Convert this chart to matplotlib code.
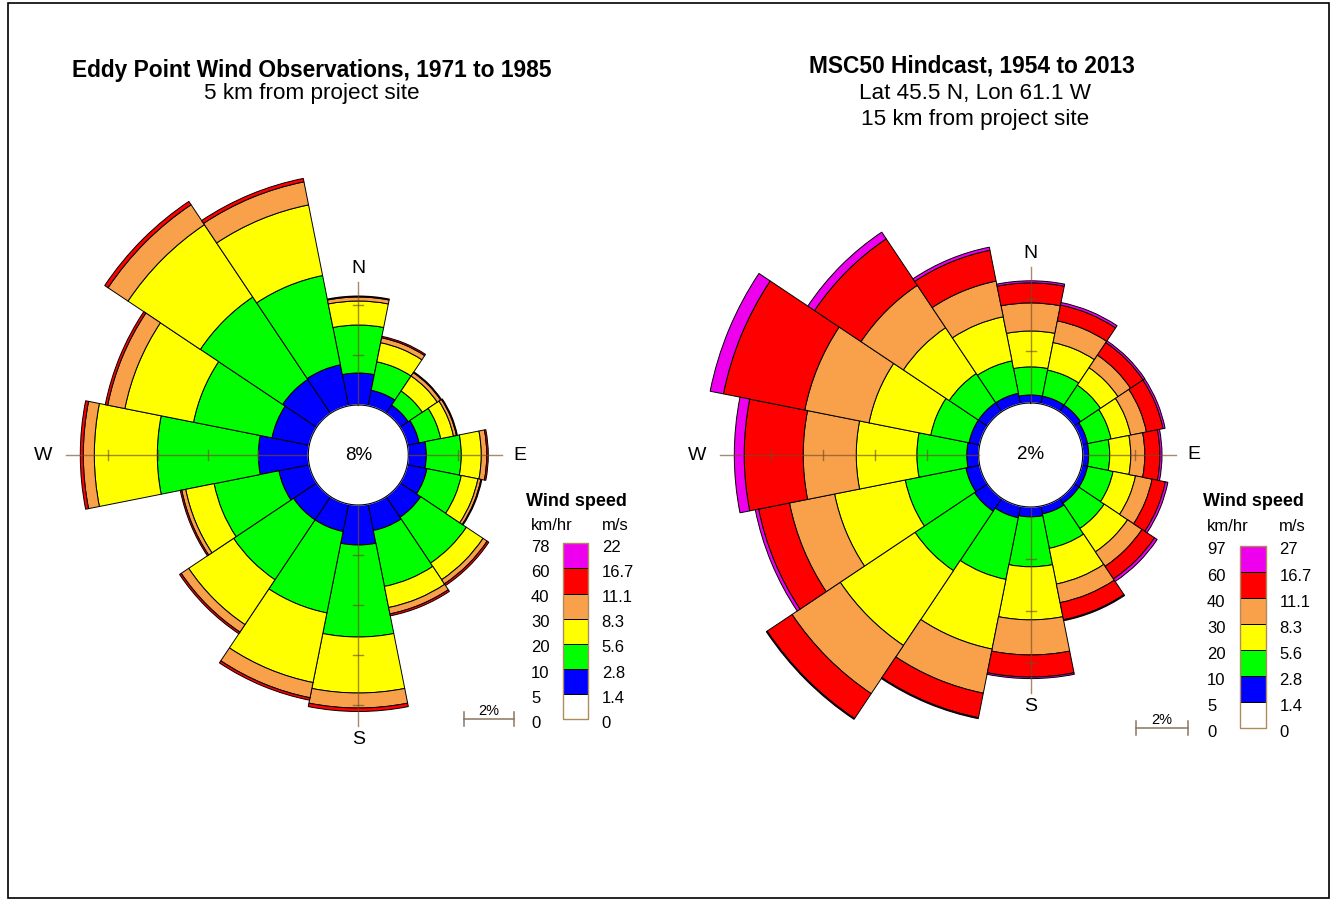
import numpy as np
import matplotlib
matplotlib.use("Agg")
import matplotlib.pyplot as plt
from matplotlib.patches import Rectangle

plt.rcParams['font.family'] = ['Liberation Sans', 'DejaVu Sans']

FIG_W, FIG_H = 1333, 901

directions = ['N', 'NNE', 'NE', 'ENE', 'E', 'ESE', 'SE', 'SSE',
              'S', 'SSW', 'SW', 'WSW', 'W', 'WNW', 'NW', 'NNW']

# speed class colours, slowest first (1.4 m/s upward)
speed_colors = ['#0000ff', '#00ff00', '#ffff00', '#f9a04b', '#ff0000', '#ee00ee']

# ---- Eddy Point observations, 1971-1985: frequency (%) by direction ----
eddy_calm = 8
eddy_1_4 = [1.28, 0.64, 0.40, 0.48, 0.72, 0.80, 1.00, 1.08,
            1.60, 1.12, 1.12, 1.24, 2.00, 1.52, 1.64, 1.68]
eddy_2_8 = [1.92, 1.16, 0.68, 0.88, 1.40, 1.40, 2.20, 2.28,
            3.68, 3.32, 2.88, 2.64, 4.04, 3.20, 3.96, 3.64]
eddy_5_6 = [0.96, 0.78, 0.72, 0.52, 0.80, 0.68, 0.80, 0.86,
            2.24, 2.84, 2.16, 1.16, 2.52, 2.80, 3.48, 2.88]
eddy_8_3 = [0.16, 0.20, 0.16, 0.12, 0.22, 0.12, 0.20, 0.26,
            0.60, 0.62, 0.36, 0.16, 0.44, 0.70, 0.96, 0.94]
eddy_11_1 = [0.04, 0.06, 0.04, 0.04, 0.06, 0.04, 0.08, 0.08,
             0.14, 0.10, 0.08, 0.06, 0.12, 0.10, 0.16, 0.14]
eddy_16_7 = [0.0] * 16
eddy_kmh = ['0', '5', '10', '20', '30', '40', '60', '78']
eddy_ms = ['0', '1.4', '2.8', '5.6', '8.3', '11.1', '16.7', '22']

# ---- MSC50 hindcast, 1954-2013: frequency (%) by direction ----
msc_calm = 2
msc_1_4 = [0.31, 0.31, 0.31, 0.23, 0.23, 0.23, 0.23, 0.31,
           0.38, 0.46, 0.60, 0.54, 0.46, 0.42, 0.42, 0.42]
msc_2_8 = [1.08, 1.02, 0.92, 0.92, 0.81, 1.00, 1.17, 1.35,
           1.92, 2.42, 2.75, 2.38, 1.92, 1.50, 1.35, 1.27]
msc_5_6 = [1.38, 1.08, 0.81, 0.77, 0.81, 0.88, 1.08, 1.40,
           2.04, 2.73, 3.46, 2.77, 2.33, 2.42, 2.12, 1.73]
msc_8_3 = [1.08, 0.85, 0.58, 0.62, 0.54, 0.65, 0.67, 0.73,
           1.35, 1.73, 2.23, 1.77, 2.04, 2.52, 1.96, 1.40]
msc_11_1 = [0.77, 0.62, 0.58, 0.65, 0.58, 0.52, 0.58, 0.67,
            0.85, 0.96, 1.15, 1.21, 2.27, 3.19, 2.15, 1.21]
msc_16_7 = [0.08, 0.10, 0.08, 0.08, 0.08, 0.10, 0.12, 0.04,
            0.06, 0.04, 0.04, 0.13, 0.38, 0.52, 0.31, 0.12]
msc_kmh = ['0', '5', '10', '20', '30', '40', '60', '97']
msc_ms = ['0', '1.4', '2.8', '5.6', '8.3', '11.1', '16.7', '27']

R0 = 2.0                      # radius of the calm circle, in % units
AXIS_COL = (0.45, 0.30, 0.15, 0.65)
FRAME_COL = '#b08a5a'
SCALE_COL = '#8a7560'

fig = plt.figure(figsize=(FIG_W / 100, FIG_H / 100), dpi=100)
fig.patch.set_facecolor('white')

# full-figure overlay in pixel units for titles, legends, scale bars
ov = fig.add_axes([0, 0, 1, 1])
ov.set_xlim(0, FIG_W)
ov.set_ylim(FIG_H, 0)
ov.axis('off')


def draw_rose(cx, cy, half, pxp, classes, calm):
    ax = fig.add_axes([(cx - half) / FIG_W, (FIG_H - cy - half) / FIG_H,
                       2 * half / FIG_W, 2 * half / FIG_H], projection='polar')
    ax.set_theta_zero_location('N')
    ax.set_theta_direction(-1)
    ax.set_ylim(0, half / pxp)
    ax.set_axis_off()

    theta = np.deg2rad(np.arange(len(directions)) * 22.5)
    width = 2 * np.pi / len(directions)
    base = np.full(len(directions), R0)
    for vals, col in zip(classes, speed_colors):
        vals = np.asarray(vals, dtype=float)
        m = vals > 0
        if m.any():
            ax.bar(theta[m], vals[m], width=width, bottom=base[m], color=col,
                   edgecolor='black', linewidth=0.7, align='center', zorder=2)
        base = base + vals

    t = np.linspace(0, 2 * np.pi, 361)
    ax.fill(t, np.full_like(t, R0), color='white', zorder=3)
    ax.plot(t, np.full_like(t, R0), color='black', lw=0.8, zorder=4)
    ax.text(0, 0, f'{calm}%', ha='center', va='center', fontsize=13.5, zorder=6)

    # compass axes with 2% ticks
    ext = 14 / pxp
    specs = {'N': (0, dict(ha='center', va='bottom'), 5),
             'E': (4, dict(ha='left', va='center'), 11),
             'S': (8, dict(ha='center', va='top'), 5),
             'W': (12, dict(ha='right', va='center'), 14)}
    for lab, (i, al, gap) in specs.items():
        th = theta[i]
        rend = base[i] + ext
        ax.plot([th, th], [R0, rend], color=AXIS_COL, lw=1.0, zorder=5)
        rt = R0 + 2
        while rt < rend:
            d = 5 / (rt * pxp)
            ax.plot([th - d, th + d], [rt, rt], color=AXIS_COL, lw=1.0, zorder=5)
            rt += 2
        ax.text(th, rend + gap / pxp, lab, fontsize=14, zorder=6, **al)
    return ax


def draw_legend(x_box, y_top, seg_h, box_w, x_kmh, x_ms, y_units, kmh, ms, bar_x, bar_y, pxp):
    ov.text((x_kmh + x_ms + 20) / 2, 501.7, 'Wind speed', ha='center', va='center',
            fontsize=13, fontweight='bold')
    ov.text(x_kmh, y_units, 'km/hr', ha='left', va='center', fontsize=12)
    ov.text(x_ms, y_units, 'm/s', ha='left', va='center', fontsize=12)
    cols = ['white'] + speed_colors
    n = len(cols)
    for k, col in enumerate(cols):
        y0 = y_top + (n - 1 - k) * seg_h
        ov.add_patch(Rectangle((x_box, y0), box_w, seg_h, facecolor=col,
                               edgecolor='black', lw=0.7))
    ov.add_patch(Rectangle((x_box, y_top), box_w, n * seg_h, fill=False,
                           edgecolor=FRAME_COL, lw=1.0))
    for k in range(n + 1):
        yb = y_top + (n - k) * seg_h + 4
        ov.text(x_kmh, yb, kmh[k], ha='left', va='center', fontsize=12)
        ov.text(x_ms, yb, ms[k], ha='left', va='center', fontsize=12)
    # 2% scale bar
    L = 2 * pxp
    ov.plot([bar_x, bar_x + L], [bar_y, bar_y], color=SCALE_COL, lw=1.1)
    for xe in (bar_x, bar_x + L):
        ov.plot([xe, xe], [bar_y - 7, bar_y + 7], color=SCALE_COL, lw=1.1)
    ov.text(bar_x + L / 2, bar_y - 4, '2%', ha='center', va='baseline', fontsize=10.5)


# titles
ov.text(312, 70, 'Eddy Point Wind Observations, 1971 to 1985', ha='center', va='center',
        fontsize=16.4, fontweight='bold')
ov.text(312, 94, '5 km from project site', ha='center', va='center', fontsize=16.2)
ov.text(972, 66, 'MSC50 Hindcast, 1954 to 2013', ha='center', va='center',
        fontsize=16.4, fontweight='bold')
ov.text(975, 94, 'Lat 45.5 N, Lon 61.1 W', ha='center', va='center', fontsize=16.2)
ov.text(975, 120, '15 km from project site', ha='center', va='center', fontsize=16.2)

eddy_classes = [eddy_1_4, eddy_2_8, eddy_5_6, eddy_8_3, eddy_11_1, eddy_16_7]
msc_classes = [msc_1_4, msc_2_8, msc_5_6, msc_8_3, msc_11_1, msc_16_7]

draw_rose(358.3, 455, 320, 25.0, eddy_classes, eddy_calm)
draw_rose(1030.7, 455, 340, 26.0, msc_classes, msc_calm)

draw_legend(563.3, 543.3, 25.15, 25, 531, 601.7, 525, eddy_kmh, eddy_ms, 464, 719.3, 25.0)
draw_legend(1240, 546, 26.05, 25.7, 1207, 1279.3, 526.7, msc_kmh, msc_ms, 1136, 728.3, 26.0)

# outer frame
ov.add_patch(Rectangle((8, 3), 1321, 895, fill=False, edgecolor='black', lw=1.2))

fig.savefig('out.png', dpi=100, facecolor='white')
